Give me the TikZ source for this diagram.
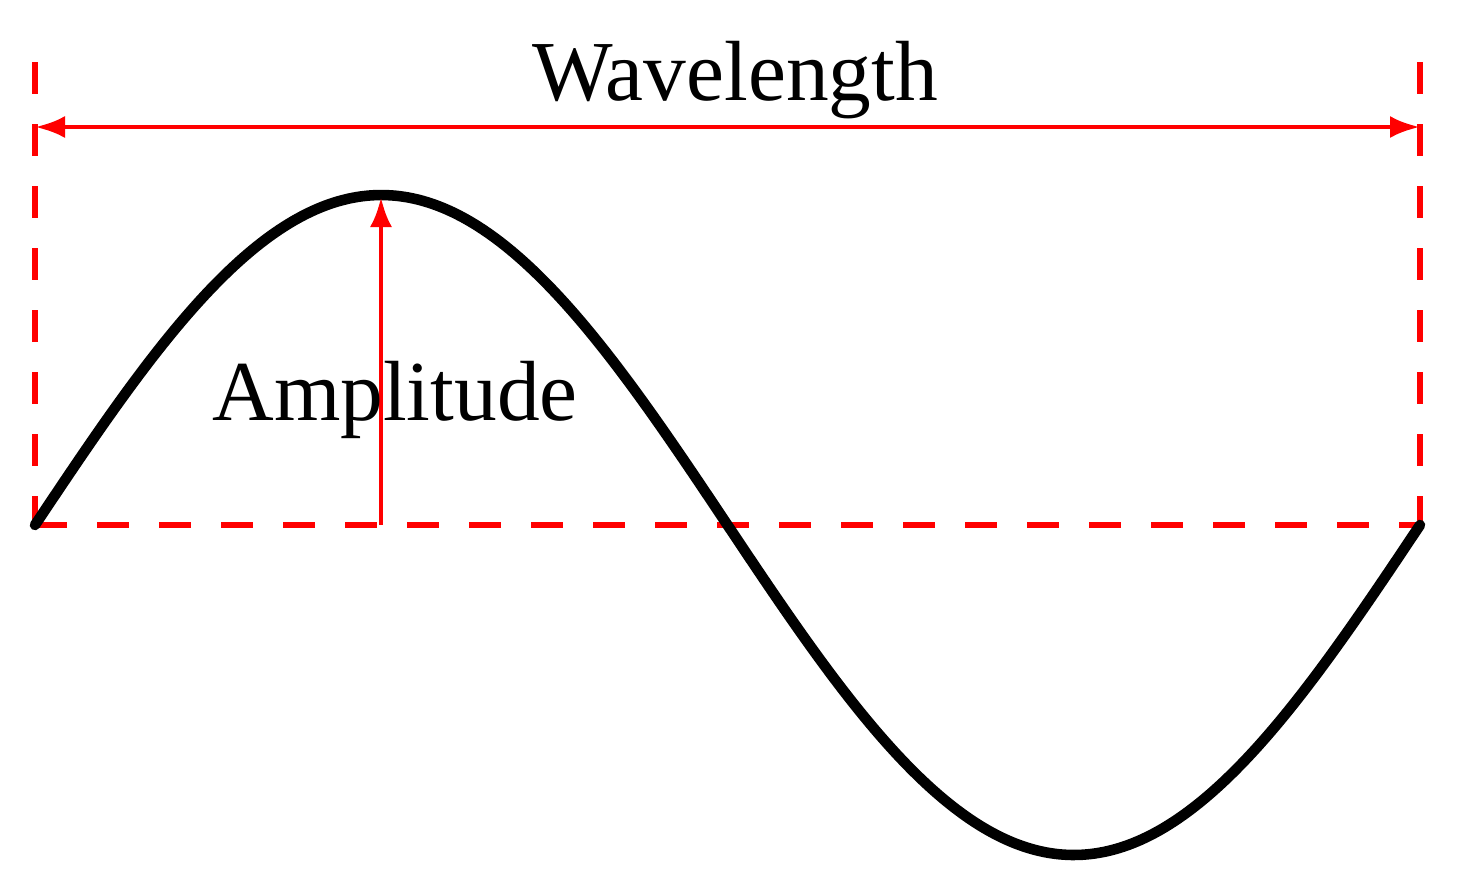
\documentclass[tikz,border=0pt]{standalone}
\usepackage{fontspec}
\setmainfont{Liberation Serif}
\usetikzlibrary{arrows.meta}
\begin{document}
\begin{tikzpicture}[
  guide/.style={red, line width=1.9pt, dash pattern=on 0.32cm off 0.30cm},
  dimarrow/.style={red, line width=1.4pt, -{Latex[length=0.3cm,width=0.22cm]}},
  dimarrows/.style={red, line width=1.4pt, {Latex[length=0.3cm,width=0.22cm]}-{Latex[length=0.3cm,width=0.22cm]}},
  wave/.style={black, line width=3pt, line cap=round},
  lbl/.style={font=\fontsize{24.3}{28}\selectfont, anchor=base, inner sep=0pt}
]
\useasboundingbox (0,0) rectangle (14.74,-8.85);
\coordinate (L) at (0.35,-5.25);
\coordinate (R) at (14.20,-5.25);
\coordinate (LT) at (0.35,-0.62);
\coordinate (RT) at (14.20,-0.62);
\coordinate (WL) at (0.35,-1.27);
\coordinate (WR) at (14.20,-1.27);
\coordinate (P) at (3.81,-1.97);
\coordinate (B) at (3.81,-5.25);
% dashed guides
\draw[guide] (LT) -- (L);
\draw[guide] (RT) -- (R);
\draw[guide] (L) -- (R);
% wave
\draw[wave] plot[domain=0:360, samples=120, smooth] ({0.35+13.85*\x/360}, {-5.25+3.3*sin(\x)});
% arrows
\draw[dimarrows] (WL) -- (WR);
\draw[dimarrow] (B) -- (P);
% labels
\node[lbl] (wl) at (7.35,-1.00) {Wavelength};
\node[lbl] (amp) at (3.95,-4.20) {Amplitude};
\end{tikzpicture}
\end{document}
